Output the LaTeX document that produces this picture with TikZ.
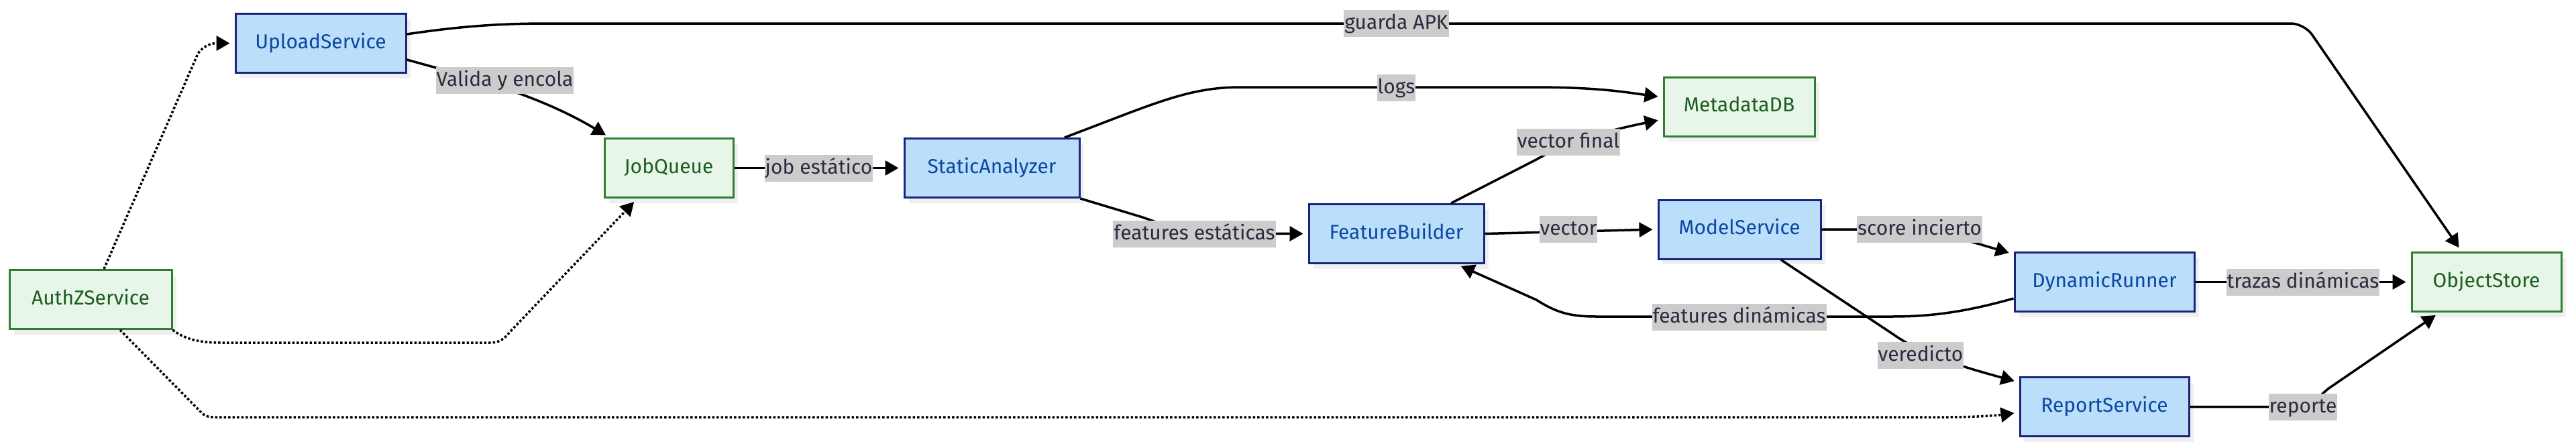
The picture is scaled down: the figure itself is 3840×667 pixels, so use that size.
\documentclass[tikz,border=0pt]{standalone}
\usepackage{fontspec}
\setmainfont{Fira Sans}
\usetikzlibrary{arrows.meta,shadows}
\definecolor{svcfill}{HTML}{BBDEFB}
\definecolor{svcborder}{HTML}{1A237E}
\definecolor{svctext}{HTML}{0D47A1}
\definecolor{stfill}{HTML}{E8F5E9}
\definecolor{stborder}{HTML}{2E7D32}
\definecolor{sttext}{HTML}{1B5E20}
\definecolor{lblgray}{HTML}{CCCCCC}
\definecolor{lbltext}{HTML}{2B2B3F}
\definecolor{shadowgray}{HTML}{EFEFEF}
\tikzset{
  box/.style={line width=3pt, minimum height=88pt, inner sep=0pt, text height=22pt, text depth=7pt,
    drop shadow={shadow xshift=7pt, shadow yshift=-8pt, fill=shadowgray, opacity=1}},
  svc/.style={box, draw=svcborder, fill=svcfill, text=svctext},
  store/.style={box, draw=stborder, fill=stfill, text=sttext},
  lbl/.style={fill=lblgray, text=lbltext, inner xsep=1pt, inner ysep=0pt, minimum height=40pt, text height=23pt, text depth=6pt},
  flow/.style={line width=3.5pt, -{Triangle[length=20pt,width=22pt]}, shorten >=7pt},
  authz/.style={flow, dash pattern=on 3.5pt off 3pt},
}
\begin{document}
\begin{tikzpicture}[x=1pt, y=-1pt, font=\fontsize{30}{36}\selectfont]
\useasboundingbox (0,0) rectangle (3840,667);
% nodes
\node[svc, minimum width=254pt] (up) at (478,64.5) {UploadService};
\node[store, minimum width=242pt] (az) at (135,446.5) {AuthZService};
\node[store, minimum width=192pt] (jq) at (997,250.5) {JobQueue};
\node[svc, minimum width=261pt] (sa) at (1478.5,250.5) {StaticAnalyzer};
\node[store, minimum width=225pt] (md) at (2592.5,159) {MetadataDB};
\node[svc, minimum width=261pt] (fb) at (2081.5,348.5) {FeatureBuilder};
\node[svc, minimum width=242pt] (ms) at (2593,342) {ModelService};
\node[svc, minimum width=268pt] (dr) at (3137,420.5) {DynamicRunner};
\node[store, minimum width=223pt] (os) at (3706.5,420.5) {ObjectStore};
\node[svc, minimum width=252pt] (rs) at (3137,606.5) {ReportService};
% connectors
\draw[flow] ([yshift=13.5pt]up.east) .. controls (700,37) and (760,35) .. (820,35)
  [rounded corners=20pt] -- (3435,35) -- ([xshift=-37pt]os.north);
\draw[flow] ([yshift=-24.5pt]up.east) .. controls (700,115) and (800,140) .. ([xshift=-88pt]jq.north);
\draw[flow] (jq.east) -- (sa.west);
\draw[flow] ([xshift=108.5pt]sa.north) .. controls (1720,155) and (1770,130) .. (1850,130)
  -- (2284,130) .. controls (2380,130) and (2420,137) .. ([yshift=14pt]md.west);
\draw[flow] (sa.south east) -- (1700,323) .. controls (1740,336) and (1760,348) .. (1800,348) -- (fb.west);
\draw[flow] ([xshift=81.5pt]fb.north) -- (2290,238) .. controls (2330,215) and (2380,198) .. ([yshift=-19pt]md.west);
\draw[flow] (fb.east) -- (ms.west);
\draw[flow] (ms.east) -- (2820,342) .. controls (2880,342) and (2920,355) .. ([yshift=-4pt]dr.north west);
\draw[flow] ([xshift=62pt]ms.south) -- (2820,497) .. controls (2860,525) and (2900,540) .. ([yshift=-9pt]rs.north west);
\draw[flow] ([yshift=-24.5pt]dr.west) .. controls (2930,465) and (2880,472) .. (2820,472)
  -- (2380,472) .. controls (2340,472) and (2320,466) .. (2290,447) -- ([xshift=90pt]fb.south);
\draw[flow] (dr.east) -- (os.west);
\draw[flow] (rs.east) -- (3420,606.5) .. controls (3440,606.5) and (3450,598) .. (3470,580) -- ([xshift=-70pt]os.south);
\draw[authz] ([xshift=20pt]az.north) -- (295,80) .. controls (305,66) and (318,64.5) .. (up.west);
\draw[authz] (az.south east) .. controls (275,505) and (295,511) .. (330,511) -- (730,511)
  .. controls (745,511) and (752,505) .. (760,495) -- ([xshift=-47pt]jq.south);
\draw[authz] ([xshift=44pt]az.south) -- (300,615) .. controls (305,620) and (310,622) .. (320,622)
  -- (2900,622) .. controls (2950,622) and (2980,619) .. ([yshift=-8.5pt]rs.west);
% labels
\node[lbl] (l1) at (752.5,120) {Valida y encola};
\node[lbl] (l2) at (1220.5,251) {job estático};
\node[lbl] (l3) at (1780.5,348.5) {features estáticas};
\node[lbl] (l4) at (2081.5,35) {guarda APK};
\node[lbl] (l5) at (2081.5,130.5) {logs};
\node[lbl] (l6) at (2338,211.5) {vector final};
\node[lbl] (l7) at (2338,342) {vector};
\node[lbl] (l8) at (2861.5,342) {score incierto};
\node[lbl] (l9) at (2592.5,472.5) {features dinámicas};
\node[lbl] (l10) at (2863,530) {veredicto};
\node[lbl] (l11) at (3433,421) {trazas dinámicas};
\node[lbl] (l12) at (3433,606.5) {reporte};
\end{tikzpicture}
\end{document}
